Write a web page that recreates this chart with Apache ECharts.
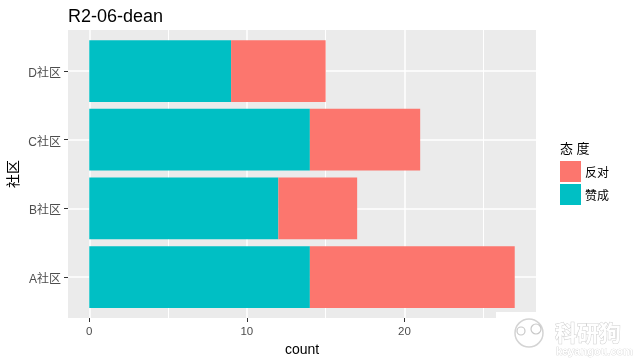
<!DOCTYPE html>
<html><head><meta charset="utf-8">
<style>html,body{margin:0;padding:0;background:#fff}#c{width:636px;height:362px}</style>
<script src="https://cdn.jsdelivr.net/npm/echarts@6/dist/echarts.min.js"></script>
</head><body><div id="c"></div>
<script>
const categories = ['A社区','B社区','C社区','D社区'];
const zancheng = [14,12,14,9];
const fandui = [13,5,7,6];
const majorTicks = [0,10,20];
const minorTicks = [5,15,25];
const xMin = -1.35, xMax = 28.35;
const FONT = '"Liberation Sans","Noto Sans CJK SC",sans-serif';
const chart = echarts.init(document.getElementById('c'), null, {renderer:'canvas'});
chart.setOption({
  animation:false,
  backgroundColor:'#fff',
  textStyle:{fontFamily:FONT},
  title:[
    {text:'R2-06-dean',left:63,top:3,textStyle:{fontSize:18,fontWeight:'normal',color:'#000',fontFamily:FONT}},
    {text:'态 度',left:555,top:138,textStyle:{fontSize:13,fontWeight:'normal',color:'#000',fontFamily:FONT}}
  ],
  grid:[
    {left:68,top:30,width:468,height:288,show:true,backgroundColor:'#EBEBEB',borderWidth:0,outerBoundsMode:'none'},
    {left:68,top:36.7,width:468,height:274.7,outerBoundsMode:'none'}
  ],
  legend:{
    data:['反对','赞成'],left:555,top:156,orient:'vertical',itemWidth:21,itemHeight:21,itemGap:2,
    selectedMode:false,icon:'rect',
    formatter:'{a|{name}}',
    textStyle:{fontSize:12,color:'#000',fontFamily:FONT,rich:{a:{fontSize:12,color:'#000',fontFamily:FONT,padding:[4,0,0,-1]}}}
  },
  xAxis:[
    {type:'value',gridIndex:0,min:xMin,max:xMax,position:'bottom',
     name:'count',nameLocation:'middle',nameGap:25,nameTextStyle:{fontSize:14,color:'#000',fontFamily:FONT},
     axisLine:{show:false,onZero:false},
     axisTick:{show:true,length:4,customValues:majorTicks,lineStyle:{color:'#333'}},
     axisLabel:{customValues:majorTicks,fontSize:11.5,color:'#4D4D4D',margin:8,fontFamily:FONT},
     splitLine:{show:true,lineStyle:{color:'#fff',width:1.5}}},
    {type:'value',gridIndex:0,min:xMin,max:xMax,position:'top',
     axisLine:{show:false,onZero:false},
     axisTick:{show:false,customValues:minorTicks},
     axisLabel:{show:false},
     splitLine:{show:true,lineStyle:{color:'#fff',width:1}}},
    {type:'value',gridIndex:1,min:xMin,max:xMax,show:false}
  ],
  yAxis:[
    {type:'value',gridIndex:0,show:false,min:0,max:1,splitLine:{show:false}},
    {type:'category',gridIndex:1,data:categories,
     name:'社区',nameLocation:'middle',nameGap:47,nameRotate:90,nameMoveOverlap:false,nameTextStyle:{fontSize:14,color:'#000',fontFamily:FONT},
     axisLine:{show:false,onZero:false},
     axisTick:{show:true,length:4,alignWithLabel:true,lineStyle:{color:'#333'}},
     axisLabel:{margin:7,formatter:'{a|{value}}',rich:{a:{fontSize:12,color:'#4D4D4D',fontFamily:FONT,padding:[5,0,0,0]}}},
     splitLine:{show:true,alignWithLabel:true,lineStyle:{color:'#fff',width:1.5}}}
  ],
  series:[
    {name:'赞成',type:'bar',stack:'s',xAxisIndex:2,yAxisIndex:1,data:zancheng,barWidth:'90%',itemStyle:{color:'#00BFC4'}},
    {name:'反对',type:'bar',stack:'s',xAxisIndex:2,yAxisIndex:1,data:fandui,barWidth:'90%',itemStyle:{color:'#FC766E'}}
  ],
  graphic:[
    {type:'rect',z:50,shape:{x:496,y:312,width:40,height:6},style:{fill:'#fff'}},
    {type:'text',z:51,x:555,y:322,style:{text:'科研狗',fontSize:22,fontWeight:'bold',fill:'#fff',stroke:'#cfcfcf',lineWidth:1,fontFamily:'"Noto Sans CJK SC"',shadowBlur:2,shadowColor:'#bbb'}},
    {type:'text',z:51,x:556,y:346,style:{text:'keyangou.com',fontSize:11,fontWeight:'bold',fill:'#fff',stroke:'#cfcfcf',lineWidth:0.6,fontFamily:'"Liberation Sans"'}},
    {type:'circle',z:51,shape:{cx:529,cy:333,r:14},style:{fill:'#fff',stroke:'#d4d4d4',lineWidth:1.5}},
    {type:'circle',z:51,shape:{cx:521,cy:331,r:4},style:{fill:'#fff',stroke:'#c8c8c8',lineWidth:1.2}},
    {type:'circle',z:51,shape:{cx:536,cy:329,r:5},style:{fill:'#fff',stroke:'#c8c8c8',lineWidth:1.2}}
  ]
});
</script></body></html>
